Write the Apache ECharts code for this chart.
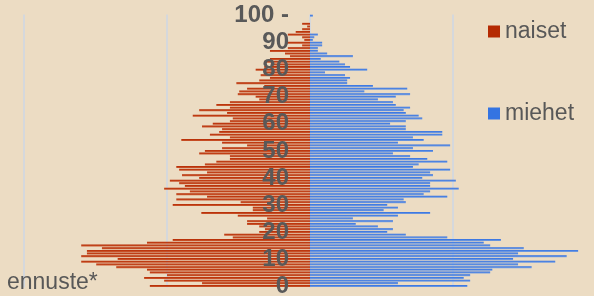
<!DOCTYPE html>
<html>
<head>
<meta charset="utf-8">
<script src="https://cdn.jsdelivr.net/npm/echarts@6/dist/echarts.min.js"></script>
<style>
  html, body { margin: 0; padding: 0; overflow: hidden; background: #ecdcc3; }
  #chart { width: 594px; height: 296px; }
</style>
</head>
<body>
<div id="chart"></div>
<script>
// ikäluokat 0..100
var ages = []
for (var a = 0; a <= 100; a++) ages.push(String(a))

// naiset, ikä 0 -> 100
var naiset = [
  22.4, 15.1, 20.4, 23.2, 20.0, 22.4, 22.8, 27.1, 29.9, 32.0,
  26.9, 32.0, 31.2, 31.2, 29.1, 32.0, 22.8, 19.2, 10.8, 12.0,
  7.1, 6.3, 7.1, 8.8, 8.8, 6.0, 10.1, 15.2, 8.0, 8.0,
  19.2, 9.7, 18.7, 14.4, 18.7, 16.8, 20.4, 17.5, 18.3, 19.6,
  15.5, 17.9, 14.4, 18.3, 18.7, 14.7, 13.1, 11.2, 11.2, 15.5,
  14.7, 12.3, 8.8, 12.3, 18.0, 11.2, 14.0, 12.7, 12.3, 15.1,
  13.6, 11.2, 10.8, 16.4, 11.6, 15.5, 11.2, 13.1, 11.2, 7.1,
  7.6, 10.1, 9.9, 8.8, 6.4, 10.3, 7.1, 5.6, 6.9, 6.4,
  7.6, 6.4, 5.5, 6.4, 5.6, 2.8, 3.5, 5.6, 3.1, 1.1,
  3.4, 0.8, 1.1, 3.1, 2.0, 1.1, 0.4, 1.1, 0, 0,
  0
]

// miehet, ikä 0 -> 100
var miehet = [
  22.0, 12.3, 22.4, 21.5, 22.4, 25.2, 25.5, 31.0, 29.1, 34.3,
  28.4, 35.9, 29.1, 37.5, 29.9, 25.2, 24.3, 26.7, 19.2, 13.4,
  10.8, 11.6, 9.5, 6.4, 11.6, 6.0, 12.3, 16.8, 10.3, 12.3,
  10.8, 13.4, 13.1, 19.2, 15.9, 16.8, 20.8, 16.8, 16.8, 20.4,
  15.7, 17.2, 16.8, 19.6, 14.4, 15.2, 19.2, 16.4, 14.0, 11.6,
  17.2, 14.4, 19.6, 12.3, 15.9, 14.4, 18.5, 18.5, 13.4, 13.4,
  11.2, 13.4, 15.7, 15.2, 13.4, 13.1, 14.0, 12.0, 11.6, 9.5,
  12.0, 14.0, 7.6, 13.6, 8.8, 5.2, 5.2, 5.6, 4.9, 2.1,
  8.0, 5.6, 4.9, 4.1, 1.5, 6.0, 2.4, 1.1, 1.1, 1.7,
  1.7, 0.4, 0.6, 1.1, 0, 0, 0, 0, 0, 0,
  0.4
]

var chart = echarts.init(document.getElementById('chart'))

var redFill = new echarts.graphic.LinearGradient(0, 0, 0, 1, [
  { offset: 0, color: '#b52800' },
  { offset: 1, color: '#cc5b32' }
])
var blueFill = new echarts.graphic.LinearGradient(0, 0, 0, 1, [
  { offset: 0, color: '#2e6ee2' },
  { offset: 1, color: '#7ca2df' }
])

var option = {
  backgroundColor: '#ecdcc3',
  animation: false,
  title: {
    text: 'ennuste*',
    left: 7,
    top: 271,
    padding: 0,
    textStyle: {
      fontFamily: 'Liberation Sans, Arial, sans-serif',
      fontSize: 23,
      fontWeight: 'normal',
      color: '#585858'
    }
  },
  legend: [
    {
      left: 488,
      top: 20,
      padding: 0,
      orient: 'vertical',
      icon: 'rect',
      itemWidth: 12,
      itemHeight: 12,
      textStyle: { fontFamily: 'Liberation Sans, Arial, sans-serif', fontSize: 23, color: '#585858' },
      data: [{ name: 'naiset', itemStyle: { color: '#b52a02' } }]
    },
    {
      left: 488,
      top: 102,
      padding: 0,
      orient: 'vertical',
      icon: 'rect',
      itemWidth: 12,
      itemHeight: 12,
      textStyle: { fontFamily: 'Liberation Sans, Arial, sans-serif', fontSize: 23, color: '#585858' },
      data: [{ name: 'miehet', itemStyle: { color: '#3474e2' } }]
    }
  ],
  grid: {
    left: 24,
    top: 14.4,
    width: 572,
    height: 273,
    containLabel: false,
    outerBoundsMode: 'none'
  },
  xAxis: {
    type: 'value',
    min: -40,
    max: 40,
    interval: 20,
    axisLine: { show: false },
    axisTick: { show: false },
    axisLabel: { show: false },
    splitLine: { lineStyle: { color: '#d5d8dc', width: 2 } }
  },
  yAxis: {
    type: 'category',
    data: ages,
    position: 'left',
    offset: -286,
    z: 10,
    axisLine: { show: false, onZero: false },
    axisTick: { show: false },
    axisLabel: {
      interval: 9,
      margin: 21,
      fontFamily: 'Liberation Sans, Arial, sans-serif',
      fontSize: 24,
      fontWeight: 'bold',
      color: '#595959',
      formatter: function (v) { return v === '100' ? '100 -' : v }
    }
  },
  series: [
    {
      name: 'naiset',
      type: 'bar',
      barWidth: 2,
      barGap: '-100%',
      itemStyle: { color: redFill },
      data: naiset.map(function (v) { return -v })
    },
    {
      name: 'miehet',
      type: 'bar',
      barWidth: 2,
      barGap: '-100%',
      itemStyle: { color: blueFill },
      data: miehet
    }
  ]
}
chart.setOption(option)
</script>
</body>
</html>
